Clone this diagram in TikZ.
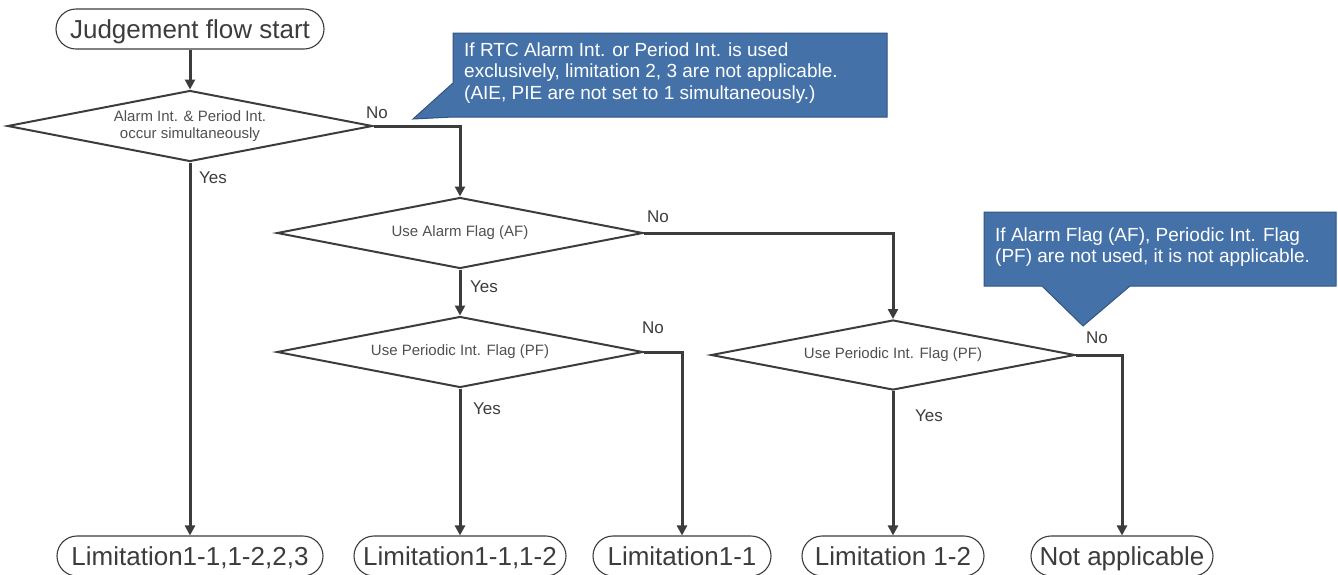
\documentclass[tikz,border=0pt]{standalone}
\usepackage{fontspec}
\setmainfont{Liberation Sans}
\usetikzlibrary{shapes.geometric,shapes.misc,arrows.meta}
\definecolor{ln}{RGB}{60,60,60}
\definecolor{tx}{RGB}{80,80,80}
\definecolor{cfill}{RGB}{68,114,168}
\definecolor{cline}{RGB}{50,84,128}
\begin{document}
\begin{tikzpicture}[x=1pt,y=-1pt,
  term/.style={rounded rectangle, draw=ln, line width=1.1pt, minimum height=40pt, inner xsep=0pt, inner ysep=0pt, text height=22pt, text depth=3pt, font=\fontsize{26}{30}\selectfont, text=ln},
  bterm/.style={term},
  dec/.style={diamond, draw=ln, line width=2pt, aspect=5, inner sep=0pt, font=\fontsize{15}{16.5}\selectfont, text=tx, align=center},
  arr/.style={draw=ln, line width=3pt, -{Triangle[length=10pt,width=10pt]}},
  lab/.style={font=\fontsize{17}{20}\selectfont, text=ln, inner sep=0pt},
  ctext/.style={font=\fontsize{19}{21.5}\selectfont, text=white, align=left, anchor=west, inner sep=0pt},
  callout/.style={fill=cfill, draw=cline, line width=1pt, line join=miter}
]
\useasboundingbox (0,0) rectangle (1338,574);

% terminals
\node[term, minimum width=268pt] (start) at (190,29) {Judgement flow start};
\node[bterm, minimum width=266pt] (t1) at (190,556) {Limitation1-1,1-2,2,3};
\node[bterm, minimum width=212pt] (t2) at (460,556) {Limitation1-1,1-2};
\node[bterm, minimum width=178pt] (t3) at (682,556) {Limitation1-1};
\node[bterm, minimum width=182pt] (t4) at (893,556) {Limitation 1-2};
\node[bterm, minimum width=182pt] (t5) at (1122,556) {Not applicable};

% decisions
\node[dec, minimum width=365pt, minimum height=71pt] (d1) at (190,126) {Alarm Int. \& Period Int.\\occur simultaneously};
\node[dec, minimum width=366pt, minimum height=71pt] (d2) at (460,233) {Use Alarm Flag (AF)};
\node[dec, minimum width=366pt, minimum height=71pt] (d3) at (460,352) {Use Periodic Int. Flag (PF)};
\node[dec, minimum width=364pt, minimum height=70pt] (d4) at (893,355) {Use Periodic Int. Flag (PF)};

% connectors
\draw[arr] (start.south) -- (d1.north);
\draw[arr] (d1.south) -- (t1.north);
\draw[arr] (d1.east) -| (d2.north);
\draw[arr] (d2.south) -- (d3.north);
\draw[arr] (d2.east) -| (d4.north);
\draw[arr] (d3.south) -- (t2.north);
\draw[arr] (d3.east) -| (t3.north);
\draw[arr] (d4.south) -- (t4.north);
\draw[arr] (d4.east) -| (t5.north);

% labels
\node[lab] (l1n) at (377,113) {No};
\node[lab] (l1y) at (213,178) {Yes};
\node[lab] (l2n) at (658,217) {No};
\node[lab] (l2y) at (484,287) {Yes};
\node[lab] (l3n) at (653,328) {No};
\node[lab] (l3y) at (487,409) {Yes};
\node[lab] (l4n) at (1097,338) {No};
\node[lab] (l4y) at (929,416) {Yes};

% callouts
\path[callout] (453,33) -- (887,33) -- (887,117) -- (453,117) -- (413,119) -- (453,83) -- cycle;
\node[ctext] (c1) at (464,73) {If RTC Alarm Int. or Period Int. is used\\exclusively, limitation 2, 3 are not applicable.\\(AIE, PIE are not set to 1 simultaneously.)};
\path[callout] (984,212) -- (1336,212) -- (1336,286) -- (1130,286) -- (1083,326) -- (1042,286) -- (984,286) -- cycle;
\node[ctext] (c2) at (995,247) {If Alarm Flag (AF), Periodic Int. Flag\\(PF) are not used, it is not applicable.};
\end{tikzpicture}
\end{document}
